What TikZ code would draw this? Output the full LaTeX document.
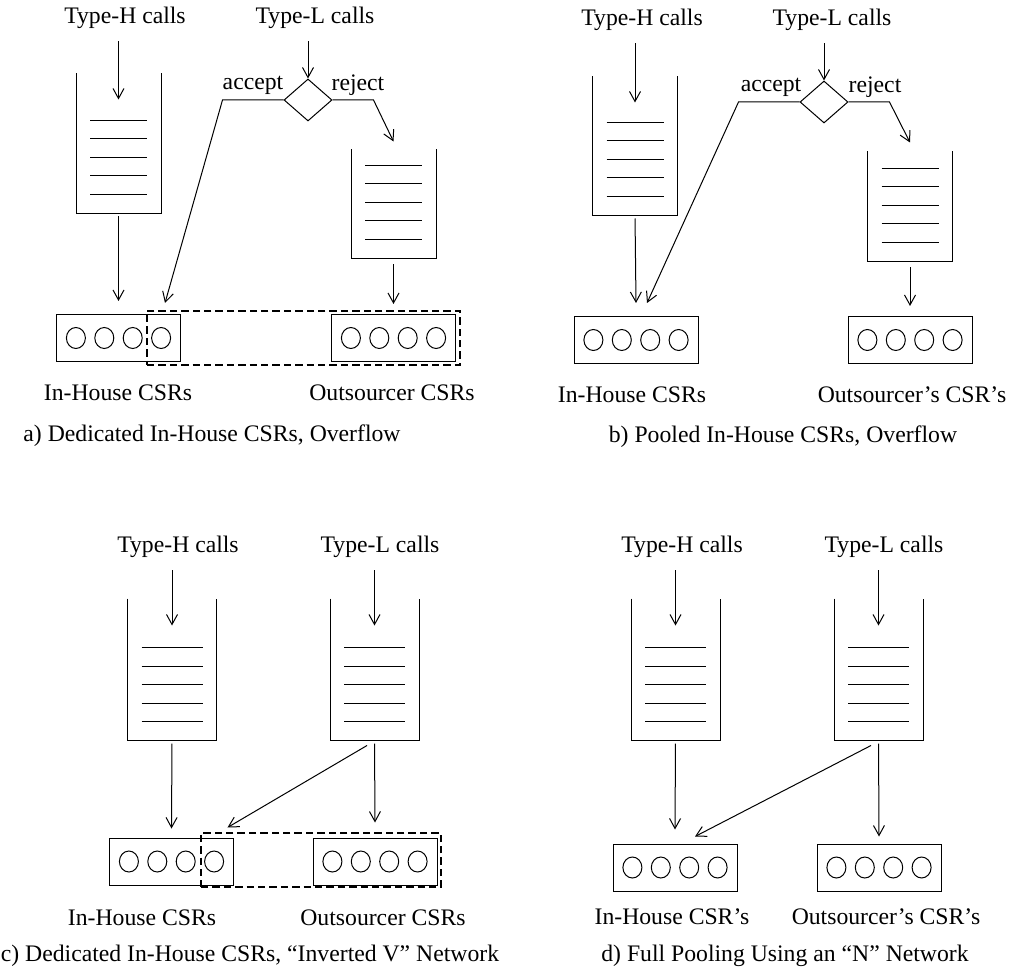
\documentclass[tikz,border=0pt]{standalone}
\usepackage{fontspec}
\setmainfont{Liberation Serif}
\usetikzlibrary{arrows.meta}
\usetikzlibrary{shapes.geometric}
\tikzset{>={Straight Barb[length=5pt,width=5.5pt]}}
\tikzset{txt/.style = {font=\fontsize{11.85}{14}\selectfont, inner sep=0pt}}
\tikzset{queue/.style = {minimum width=42pt, inner sep=0pt}}
\tikzset{pool/.style = {draw, minimum width=62pt, minimum height=23.5pt, inner sep=0pt}}
\tikzset{group/.style = {draw, line width=1.3pt, dash pattern=on 3.7pt off 2pt, minimum height=27pt, inner sep=0pt}}
\tikzset{choice/.style = {draw, diamond, minimum width=24pt, minimum height=21pt, inner sep=0pt}}
\tikzset{arrive/.style = {->, shorten <=6pt}}
\tikzset{feed/.style = {->, shorten <=1.5pt}}
\newcommand{\drawqueue}[1]{%
  \draw (#1.north west) |- (#1.south east) -- (#1.north east);
  \foreach \k in {0,...,4}
    \draw ([xshift=7pt, yshift=9.5pt+\k*9.25pt]#1.south west) -- ([xshift=-7pt, yshift=9.5pt+\k*9.25pt]#1.south east);
}
\newcommand{\drawpool}[1]{%
  \foreach \d in {-21.3,-7.1,7.1,21.3}
    \draw ([xshift=\d pt]#1.center) ellipse [x radius=4.75pt, y radius=5.25pt];
}

\begin{document}
\begin{tikzpicture}[x=0.5pt, y=-0.5pt, line width=0.5pt]
  \useasboundingbox (0,0) rectangle (1021,978);

  % a) dedicated in-house, overflow
  \node[txt] (srcHa) at (125,18) {Type-H calls};
  \node[txt] (srcLa) at (315,18) {Type-L calls};
  \node[queue, minimum height=69.5pt] (qHa) at (118.5,143.5) {};
  \node[queue, minimum height=54pt] (qLa) at (393.5,204) {};
  \node[choice] (dca) at (308,100) {};
  \node[txt] (acca) at (253,85) {accept};
  \node[txt] (reja) at (358,85) {reject};
  \node[pool] (srvHa) at (118.5,338) {};
  \node[pool] (srvOa) at (393.5,338) {};
  \node[group, minimum width=156.5pt] (grpa) at (303.5,338) {};
  \node[txt] (namHa) at (118,393) {In-House CSRs};
  \node[txt] (namOa) at (392,393) {Outsourcer CSRs};
  \node[txt] (capa) at (212,436) {a) Dedicated In-House CSRs, Overflow};
  \drawqueue{qHa}
  \drawqueue{qLa}
  \drawpool{srvHa}
  \drawpool{srvOa}
  \draw[arrive] (srcHa.south -| qHa) -- ([yshift=-13pt]qHa.north);
  \draw[arrive] (srcLa.south -| dca) -- (dca.north);
  \draw[->] (dca.west) -- ++(-61,0) -- ([xshift=-8pt,yshift=5.5pt]srvHa.north east);
  \draw[->] (dca.east) -- ++(41,0) -- ([yshift=4pt]qLa.north);
  \draw[feed] (qHa.south) -- ([yshift=6.5pt]srvHa.north);
  \draw[feed] ([yshift=-1.5pt]qLa.south) -- ([yshift=5pt]srvOa.north);

  % b) pooled in-house, overflow
  \node[txt] (srcHb) at (642,20) {Type-H calls};
  \node[txt] (srcLb) at (832,20) {Type-L calls};
  \node[queue, minimum height=69pt] (qHb) at (635,146) {};
  \node[queue, minimum height=54.5pt] (qLb) at (910,206.5) {};
  \node[choice] (dcb) at (824,102) {};
  \node[txt] (accb) at (771,87) {accept};
  \node[txt] (rejb) at (875,87) {reject};
  \node[pool] (srvHb) at (636,340) {};
  \node[pool] (srvOb) at (910,340) {};
  \node[txt] (namHb) at (632,395) {In-House CSRs};
  \node[txt] (namOb) at (912,395) {Outsourcer’s CSR’s};
  \node[txt] (capb) at (783,437) {b) Pooled In-House CSRs, Overflow};
  \drawqueue{qHb}
  \drawqueue{qLb}
  \drawpool{srvHb}
  \drawpool{srvOb}
  \draw[arrive] (srcHb.south -| qHb) -- ([yshift=-13pt]qHb.north);
  \draw[arrive] (srcLb.south -| dcb) -- (dcb.north);
  \draw[->] (dcb.west) -- ++(-61,0) -- ([xshift=5.5pt,yshift=6.5pt]srvHb.north);
  \draw[->] (dcb.east) -- ++(41,0) -- ([yshift=4.5pt]qLb.north);
  \draw[feed] (qHb.south) -- ([yshift=6.5pt]srvHb.north);
  \draw[feed] ([yshift=-1.5pt]qLb.south) -- ([yshift=5pt]srvOb.north);

  % c) dedicated in-house, inverted V
  \node[txt] (srcHc) at (178,547) {Type-H calls};
  \node[txt] (srcLc) at (380,547) {Type-L calls};
  \node[queue, minimum width=44pt, minimum height=70.5pt] (qHc) at (172,669.5) {};
  \node[queue, minimum width=44pt, minimum height=70.5pt] (qLc) at (374.5,669.5) {};
  \node[pool] (srvHc) at (171.5,861.5) {};
  \node[pool] (srvOc) at (375,861.5) {};
  \node[group, minimum width=120pt] (grpc) at (321,860) {};
  \node[txt] (namHc) at (142,918) {In-House CSRs};
  \node[txt] (namOc) at (383,918) {Outsourcer CSRs};
  \node[txt] (capc) at (250,956) {c) Dedicated In-House CSRs, “Inverted V” Network};
  \drawqueue{qHc}
  \drawqueue{qLc}
  \drawpool{srvHc}
  \drawpool{srvOc}
  \draw[arrive] (srcHc.south -| qHc) -- ([yshift=-13.5pt]qHc.north);
  \draw[arrive] (srcLc.south -| qLc) -- ([yshift=-13.5pt]qLc.north);
  \draw[feed] (qHc.south) -- ([yshift=4.5pt]srvHc.north);
  \draw[feed] (qLc.south) -- ([yshift=7.5pt]srvOc.north);
  \draw[->] ([xshift=-3.75pt,yshift=-2.5pt]qLc.south) -- ([xshift=-3.25pt,yshift=5pt]srvHc.north east);

  % d) full pooling, N network
  \node[txt] (srcHd) at (682,547) {Type-H calls};
  \node[txt] (srcLd) at (884,547) {Type-L calls};
  \node[queue, minimum width=44pt, minimum height=70.5pt] (qHd) at (675.5,669.5) {};
  \node[queue, minimum width=44pt, minimum height=70.5pt] (qLd) at (878.5,669.5) {};
  \node[pool] (srvHd) at (675,867.5) {};
  \node[pool] (srvOd) at (879,867.5) {};
  \node[txt] (namHd) at (672,917) {In-House CSR’s};
  \node[txt] (namOd) at (886,917) {Outsourcer’s CSR’s};
  \node[txt] (capd) at (785,956) {d) Full Pooling Using an “N” Network};
  \drawqueue{qHd}
  \drawqueue{qLd}
  \drawpool{srvHd}
  \drawpool{srvOd}
  \draw[arrive] (srcHd.south -| qHd) -- ([yshift=-13.5pt]qHd.north);
  \draw[arrive] (srcLd.south -| qLd) -- ([yshift=-13.5pt]qLd.north);
  \draw[feed] (qHd.south) -- ([yshift=7pt]srvHd.north);
  \draw[feed] (qLd.south) -- ([yshift=3.5pt]srvOd.north);
  \draw[->] ([xshift=-3.75pt,yshift=-2.5pt]qLd.south) -- ([xshift=10pt,yshift=3.5pt]srvHd.north);
\end{tikzpicture}
\end{document}
